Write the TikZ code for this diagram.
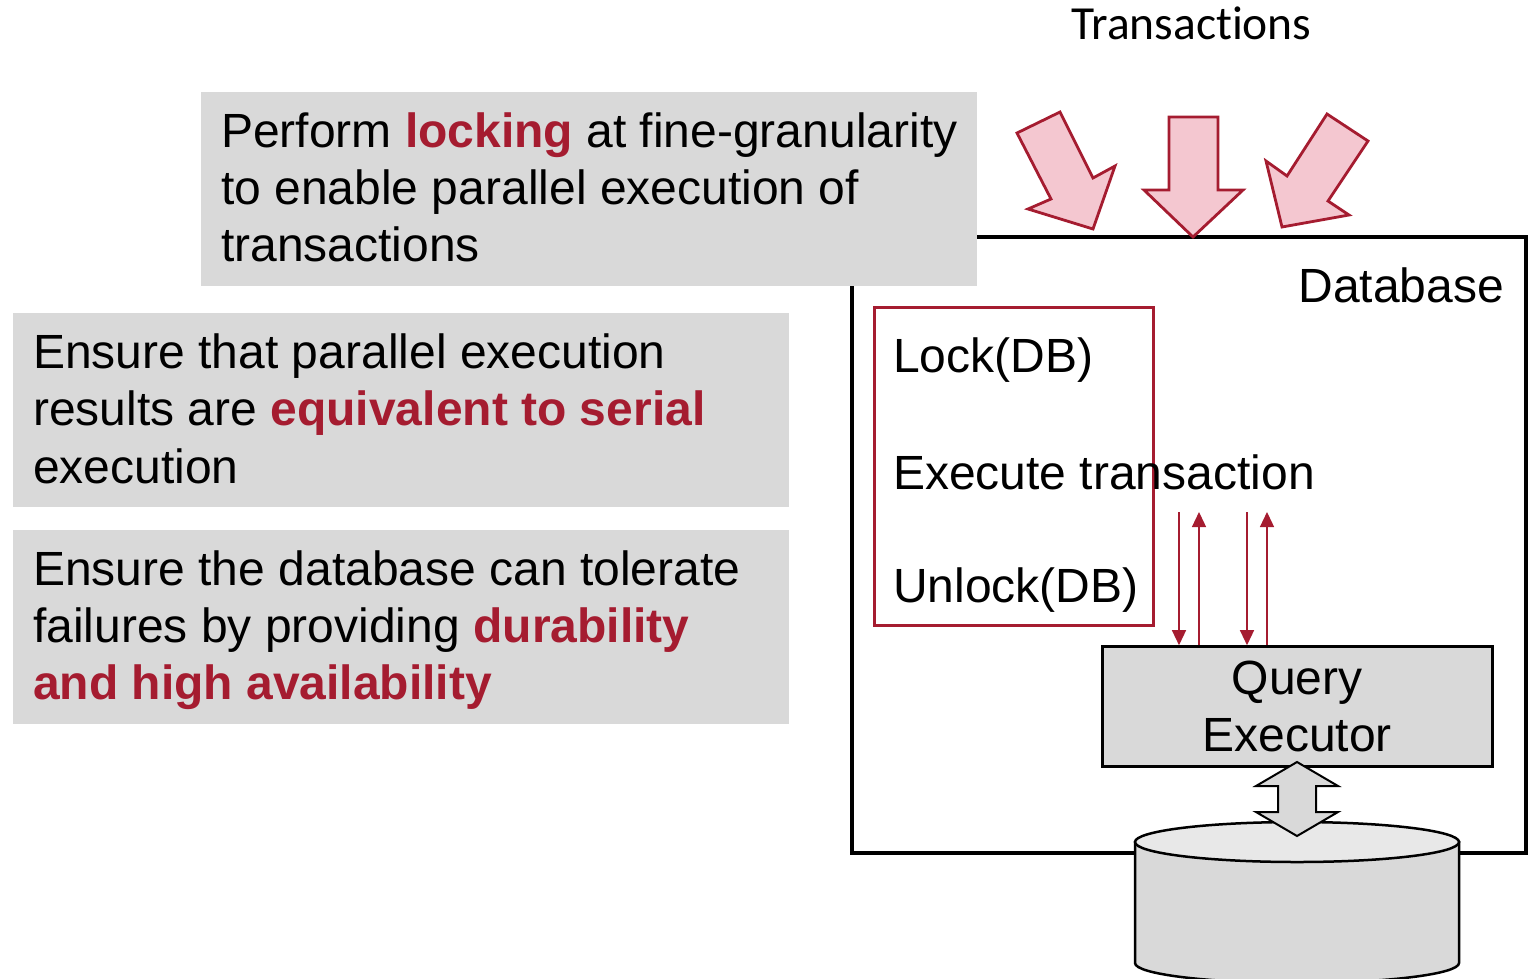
\documentclass[tikz,border=0pt]{standalone}
\usepackage{fontspec}
\setmainfont{Liberation Sans}
\newfontfamily\calibri[Ligatures=NoCommon]{Carlito}
\usetikzlibrary{arrows.meta}
\definecolor{crimson}{RGB}{165,28,48}
\definecolor{boxgray}{RGB}{217,217,217}
\definecolor{pinkfill}{RGB}{244,199,208}
\definecolor{cyltop}{RGB}{232,232,232}
\begin{document}
\begin{tikzpicture}[x=1pt,y=-1pt,
  txt/.style={anchor=base west,inner sep=0pt,font=\fontsize{48}{57.5}\selectfont},
  graybox/.style={fill=boxgray,draw=none,inner sep=0pt,minimum width=776,minimum height=194},
  bigarrow/.style={fill=pinkfill,draw=crimson,line width=2.8pt,line join=miter},
  smallarrow/.style={draw=crimson,line width=1.3pt,-{Triangle[length=15pt,width=14pt]}},
  frame/.style={draw=black,line width=3.5pt,inner sep=0pt},
]
\useasboundingbox (0,0) rectangle (1530,978);

% database frame
\node[frame,minimum width=674,minimum height=616] (db) at (1189,545) {};
\node[txt,anchor=base east] (dbl) at (1504,302) {Database};

% red lock box
\node[draw=crimson,line width=3pt,inner sep=0pt,minimum width=279,minimum height=318] (lockbox) at (1013.5,466.7) {};
\node[txt] (lk) at (893,372) {Lock(DB)};
\node[txt] (ex) at (893,489) {Execute transaction};
\node[txt] (ul) at (893,602) {Unlock(DB)};

% gray text boxes
\node[graybox] (b1) at (589,189) {};
\node[graybox] (b2) at (401,410) {};
\node[graybox] (b3) at (401,627) {};

\node[txt] (b1a) at (221,147) {Perform \textcolor{crimson}{\bfseries locking} at fine-granularity};
\node[txt] (b1b) at (221,204) {to enable parallel execution of};
\node[txt] (b1c) at (221,261) {transactions};

\node[txt] (b2a) at (33,368.5) {Ensure that parallel execution};
\node[txt] (b2b) at (33,425.5) {results are \textcolor{crimson}{\bfseries equivalent to serial}};
\node[txt] (b2c) at (33,483) {execution};

\node[txt] (b3a) at (33,585) {Ensure the database can tolerate};
\node[txt] (b3b) at (33,642) {failures by providing \textcolor{crimson}{\bfseries durability}};
\node[txt] (b3c) at (33,699.5) {\textcolor{crimson}{\bfseries and high availability}};

% transactions label and arrows
\node[anchor=base west,inner sep=0pt,font=\calibri\fontsize{47.5}{56}\selectfont] (tr) at (1071,39.5) {Transactions};
\draw[bigarrow] (1017,133) -- (1060,112) -- (1093,178) -- (1115,166) -- (1093,229) -- (1028,209) -- (1051,199) -- cycle;
\draw[bigarrow] (1169,117) -- (1218,117) -- (1218,190) -- (1243,190) -- (1193,237) -- (1144,190) -- (1169,190) -- cycle;
\draw[bigarrow] (1327,114) -- (1368,141) -- (1328,201) -- (1349,215) -- (1282,227) -- (1266,161) -- (1287,176) -- cycle;

% query executor
\node[frame,line width=3pt,fill=boxgray,minimum width=390,minimum height=120,align=center,
      font=\fontsize{48}{57.5}\selectfont] (qe) at (1297,706.7) {Query\\Executor};

% small arrows
\coordinate (s1) at (1179,512);
\coordinate (s2) at (1199,512);
\coordinate (s3) at (1247,512);
\coordinate (s4) at (1267,512);
\draw[smallarrow] (s1) -- (s1 |- qe.north);
\draw[smallarrow] (s2 |- qe.north) -- (s2);
\draw[smallarrow] (s3) -- (s3 |- qe.north);
\draw[smallarrow] (s4 |- qe.north) -- (s4);

% cylinder
\filldraw[fill=boxgray,draw=black,line width=2.5pt] (1135,842) -- (1135,963) arc[start angle=180,end angle=0,x radius=162,y radius=20] -- (1459,842) -- cycle;
\filldraw[fill=cyltop,draw=black,line width=2.5pt] (1297,842) ellipse[x radius=162,y radius=20];

% double arrow
\filldraw[fill=boxgray,draw=black,line width=2pt,line join=miter] (1297,762) -- (1338,786) -- (1316,786) -- (1316,812) -- (1338,812) -- (1297,836) -- (1256,812) -- (1278,812) -- (1278,786) -- (1256,786) -- cycle;
\end{tikzpicture}
\end{document}
